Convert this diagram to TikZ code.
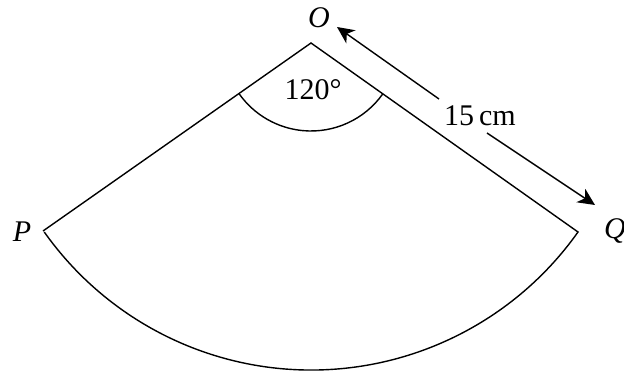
\documentclass[tikz,border=0pt]{standalone}
\usepackage{fontspec}
\setmainfont{Liberation Serif}
\usetikzlibrary{arrows.meta, calc}
\tikzset{
  sectorline/.style={line width=1.4pt, line join=miter},
  dimarrow/.style={
    -{Stealth[length=17pt, width=16pt, inset=5pt]},
    line width=1.4pt
  },
  ptlabel/.style={font=\fontsize{30}{36}\selectfont\itshape, inner sep=0pt},
  numlabel/.style={font=\fontsize{30}{36}\selectfont, inner sep=0pt}
}

\begin{document}
\begin{tikzpicture}[x=1pt, y=-1pt]

\useasboundingbox (0,0) rectangle (624,372);

% ── Sector corners ────────────────────────────────────────────────────────────

\coordinate (O) at (311,43);
\coordinate (P) at (43,231);
\coordinate (Q) at (578,232);

% ── Sector outline and angle mark ─────────────────────────────────────────────

\draw[sectorline] (P) -- (O) -- (Q) arc[start angle=35.3, end angle=144.7, radius=327];
\draw[sectorline] (O) ++(35.3:88) arc[start angle=35.3, end angle=144.7, radius=88];

% ── Labels ────────────────────────────────────────────────────────────────────

\node[ptlabel] (labO) at (319,18) {O};
\node[ptlabel] (labP) at (22,232) {P};
\node[ptlabel, anchor=west] (labQ) at (604,231) {Q};
\node[numlabel] (angle) at (313,90) {120°};
\node[numlabel] (len) at (480,116) {15\,cm};

% ── Length arrow, split round its label ───────────────────────────────────────

\coordinate (dimA) at (337,27);
\coordinate (dimB) at (595,205);
\coordinate (gapA) at (439,99);
\coordinate (gapB) at (487,133);

\draw[dimarrow] (gapA) -- (dimA);
\draw[dimarrow] (gapB) -- (dimB);

\end{tikzpicture}
\end{document}
